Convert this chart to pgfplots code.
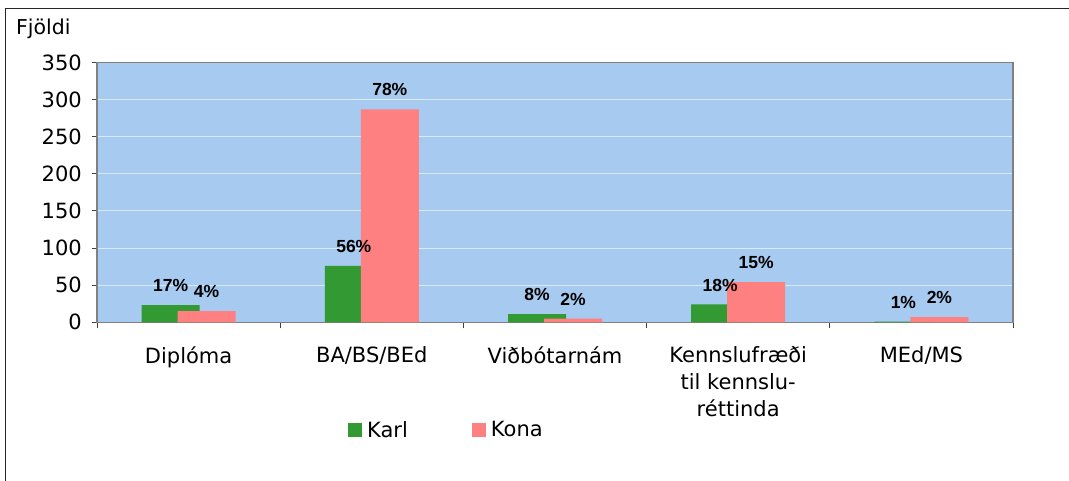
\documentclass[border=0pt]{standalone}
\usepackage{fontspec}
\setmainfont{DejaVu Sans}
\newfontfamily\lblfont{Liberation Sans}
\usepackage{pgfplots}
\usepackage{pgfplotstable}
\pgfplotsset{compat=1.18}
\definecolor{bg}{HTML}{A6CAF0}
\definecolor{karl}{HTML}{339933}
\definecolor{kona}{HTML}{FF8080}
\definecolor{gridc}{HTML}{DCE9F7}
\definecolor{axc}{HTML}{808080}

\pgfplotstableread{
x y p
0 23 17
1 76 56
2 11 8
3 24 18
4 1 1
}\karldata
\pgfplotstableread{
x y p
0 15 4
1 287 78
2 5 2
3 54 15
4 7 2
}\konadata

\begin{document}
\begin{tikzpicture}[x=1pt,y=1pt]
\useasboundingbox (0,0) rectangle (1069,-480);
\fill[white] (0,0) rectangle (1069,-480);
\draw[line width=1.2pt, black!85] (5.5,-481) -- (5.5,-8.5) -- (1070,-8.5);
\node[anchor=west, inner sep=0pt, font=\fontsize{20.5}{24}\selectfont] at (16,-29) {Fjöldi};
\begin{axis}[
  at={(97pt,-322.3pt)}, anchor=south west,
  scale only axis, width=916pt, height=259.8pt,
  xmin=-0.5, xmax=4.5, ymin=0, ymax=350,
  /pgf/number format/assume math mode=true,
  axis background/.style={fill=bg},
  axis line style={axc, line width=1.3pt},
  ytick={0,50,...,350},
  ymajorgrids, grid style={gridc, line width=1pt},
  xtick={0,...,4},
  xticklabels={Diplóma, BA/BS/BEd, Viðbótarnám, {Kennslufræði\\til kennslu-\\réttinda}, MEd/MS},
  minor xtick={-0.5,0.5,...,4.5},
  tick align=outside, tick pos=left,
  major tick length=5pt, minor tick length=6pt,
  every tick/.style={black!75, line width=1pt},
  x tick style={draw=none},
  minor x tick style={draw=black!75, line width=1pt},
  yticklabel style={font=\fontsize{21}{24}\selectfont, anchor=east, inner sep=0pt, xshift=-10pt},
  xticklabel style={font=\fontsize{21}{27}\selectfont, align=center, anchor=north, inner sep=0pt, yshift=-19pt},
  ybar, bar width=58pt,
  nodes near coords={\pgfplotspointmeta\%},
  every node near coord/.append style={font=\lblfont\bfseries\fontsize{17.5}{20}\selectfont, anchor=south, inner sep=0pt, yshift=13pt},
  point meta=explicit symbolic,
  legend columns=2,
  legend style={at={(0.274,-0.4145)}, anchor=west, draw=none, fill=none, inner sep=0pt,
    font=\fontsize{21}{24}\selectfont, nodes={inner sep=2pt},
    /tikz/every even column/.append style={column sep=62pt}},
  legend image code/.code={\fill[#1] (0pt,-7pt) rectangle (14pt,7pt); \path (17pt,0pt);},
]
\addplot[fill=karl, draw=none, bar shift=-18pt] table[x=x, y=y, meta=p]{\karldata};
\addplot[fill=kona, draw=none, bar shift=18pt] table[x=x, y=y, meta=p]{\konadata};
\legend{Karl, Kona}
\end{axis}
\end{tikzpicture}
\end{document}
